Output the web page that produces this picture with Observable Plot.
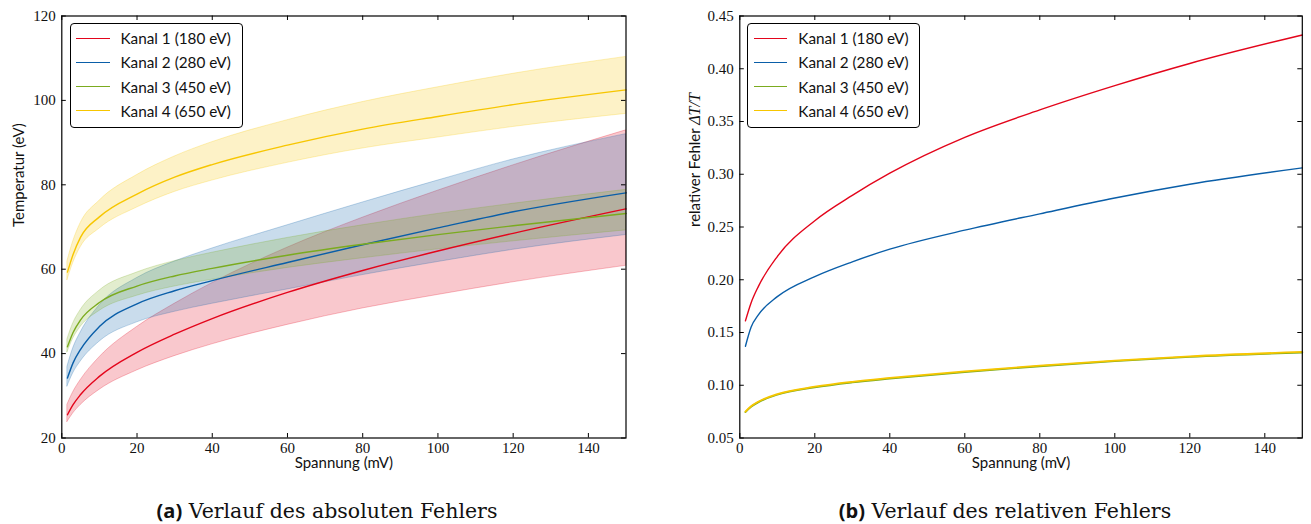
<!DOCTYPE html>
<html><head><meta charset="utf-8">
<script src="https://cdn.jsdelivr.net/npm/d3@7"></script>
<script src="https://cdn.jsdelivr.net/npm/@observablehq/plot@0.6"></script>
<style>
body{margin:0;background:#fff;}
#wrap{position:relative;width:1311px;height:524px;overflow:hidden;background:#fff;}
.panel{position:absolute;top:0;}
#wrap svg text{font-family:"Liberation Serif",serif !important;font-size:15px !important;}
#wrap svg text.sl{font-family:Lato,"Liberation Sans",sans-serif !important;font-size:15px !important;}
#wrap svg tspan.math{font-family:"Liberation Serif",serif !important;font-style:italic;font-size:16px;}
.legend{position:absolute;top:23px;width:171px;height:101px;border:1px solid #000;border-radius:4px;background:#fff;font-family:Lato,"Liberation Sans",sans-serif;font-size:15.3px;color:#111;padding-top:2px;box-sizing:content-box;}
.row{position:relative;height:24.3px;}
.row .sw{position:absolute;left:5.5px;top:11.5px;width:33.5px;height:0;border-top:1.6px solid;}
.row .lb{position:absolute;left:50px;top:2px;line-height:20px;white-space:nowrap;}
.cap{position:absolute;top:497px;font-family:"DejaVu Serif",serif;font-size:20.5px;white-space:nowrap;transform:translateX(-50%);color:#111;}
.cap b{font-family:"Open Sans",sans-serif;font-size:20px;font-weight:700;}
</style>
</head><body>
<div id="wrap"></div>
<script>
// ---------- data ----------
const xs = [1.5, 3, 5, 10, 20, 30, 40, 60, 80, 100, 120, 150];
const kanal = ["Kanal 1 (180 eV)", "Kanal 2 (280 eV)", "Kanal 3 (450 eV)", "Kanal 4 (650 eV)"];
const colors = ["#e3051b", "#0a5ea8", "#7bab1f", "#f7c600"];

// absolute temperature (eV): centre line, lower and upper edge of the error band
const t1   = [25.5, 27.9, 30.3, 34.6, 40.3, 44.6, 48.3, 54.5, 59.7, 64.3, 68.5, 74.3];
const t1lo = [23.8, 25.8, 27.8, 31.4, 36.0, 39.4, 42.2, 46.8, 50.7, 53.9, 56.9, 60.8];
const t1hi = [27.9, 30.8, 33.7, 39.1, 46.3, 51.8, 56.7, 65.1, 72.2, 78.6, 84.6, 92.9];

const t2   = [34.2, 37.8, 41.0, 46.4, 51.8, 54.9, 57.3, 61.6, 65.8, 69.8, 73.6, 78.1];
const t2lo = [32.2, 35.3, 38.1, 42.8, 47.4, 49.9, 51.8, 55.2, 58.6, 61.7, 64.6, 68.1];
const t2hi = [36.9, 41.2, 45.0, 51.4, 57.9, 61.8, 64.9, 70.4, 75.8, 81.0, 86.0, 92.0];

const t3   = [41.6, 45.0, 48.0, 52.1, 56.0, 58.4, 60.2, 63.3, 65.9, 68.2, 70.3, 73.2];
const t3lo = [40.3, 43.5, 46.3, 50.1, 53.7, 55.9, 57.5, 60.3, 62.6, 64.7, 66.6, 69.2];
const t3hi = [43.4, 47.1, 50.3, 54.9, 59.2, 61.9, 63.9, 67.4, 70.4, 73.1, 75.5, 78.8];

const t4   = [59.3, 63.5, 67.6, 72.4, 77.8, 81.8, 84.8, 89.4, 93.2, 96.2, 99.0, 102.5];
const t4lo = [57.4, 61.4, 65.2, 69.6, 74.6, 78.3, 81.0, 85.2, 88.6, 91.2, 93.7, 96.8];
const t4hi = [61.9, 66.5, 70.9, 76.2, 82.3, 86.7, 90.1, 95.3, 99.6, 103.1, 106.3, 110.3];

// relative error ΔT/T
const r1 = [0.161, 0.178, 0.194, 0.222, 0.256, 0.280, 0.301, 0.335, 0.361, 0.384, 0.405, 0.432];
const r2 = [0.137, 0.155, 0.167, 0.184, 0.203, 0.217, 0.229, 0.247, 0.2625, 0.2775, 0.2905, 0.306];
const r3 = [0.0745, 0.0795, 0.084, 0.091, 0.098, 0.1027, 0.1063, 0.1125, 0.118, 0.1228, 0.1268, 0.131];
const r4 = [0.0751, 0.0801, 0.0846, 0.0916, 0.0986, 0.1033, 0.1069, 0.1131, 0.1186, 0.1234, 0.1274, 0.1316];

const xTicks = [0, 20, 40, 60, 80, 100, 120, 140];
const yTicksA = [20, 40, 60, 80, 100, 120];
const yTicksB = [0.05, 0.10, 0.15, 0.20, 0.25, 0.30, 0.35, 0.40, 0.45];

// ---------- tables ----------
const T = [t1, t2, t3, t4], LO = [t1lo, t2lo, t3lo, t4lo], HI = [t1hi, t2hi, t3hi, t4hi], R = [r1, r2, r3, r4];
const absRows = [], relRows = [];
for (let k = 0; k < 4; k++) {
  xs.forEach((x, i) => {
    absRows.push({k, x, t: T[k][i], lo: LO[k][i], hi: HI[k][i]});
    relRows.push({k, x, r: R[k][i]});
  });
}

const W = 655, H = 475, tick = 4.5;
const sansLabels = ["Spannung (mV)", "Temperatur (eV)", "relativer Fehler ΔT/T"];

function frameMarks(yTicks, fmt, m) {
  const iw = W - m.l - m.r, ih = H - m.t - m.b;
  return [
    Plot.tickX(xTicks, {x: d => d, insetTop: ih - tick, stroke: "#000", strokeWidth: 1}),
    Plot.tickX(xTicks, {x: d => d, insetBottom: ih - tick, stroke: "#000", strokeWidth: 1}),
    Plot.tickY(yTicks, {y: d => d, insetRight: iw - tick, stroke: "#000", strokeWidth: 1}),
    Plot.tickY(yTicks, {y: d => d, insetLeft: iw - tick, stroke: "#000", strokeWidth: 1}),
    Plot.frame({stroke: "#000", strokeWidth: 1.2}),
    Plot.axisX({ticks: xTicks, tickSize: 0, tickPadding: 4, label: null, fontSize: 15, tickFormat: d => String(d)}),
    Plot.axisY({ticks: yTicks, tickSize: 0, tickPadding: 6, label: null, fontSize: 15, tickFormat: fmt})
  ];
}

function panel(left, m, y, marks) {
  const svg = Plot.plot({
    width: W, height: H,
    marginLeft: m.l, marginRight: m.r, marginTop: m.t, marginBottom: m.b,
    x: {domain: [0, 150]},
    y,
    style: {background: "transparent", fontSize: "15px", color: "#111", overflow: "visible"},
    marks
  });
  svg.classList.add("panel");
  svg.style.left = left + "px";
  // axis titles get the sans face; tick labels keep the serif face (CSS)
  d3.select(svg).selectAll("text").filter(function() { return sansLabels.includes(this.textContent); })
    .classed("sl", true);
  return svg;
}

const mA = {l: 61.3, r: 29.5, t: 15.5, b: 37.5};
const mB = {l: 83.3, r: 9.2, t: 15.5, b: 37.5};

const areaMarks = [0, 1, 2, 3].map(k => Plot.areaY(absRows.filter(d => d.k === k), {
  x: "x", y1: "lo", y2: "hi", curve: "monotone-x",
  fill: colors[k], fillOpacity: 0.22, stroke: colors[k], strokeOpacity: 0.25, strokeWidth: 1
}));
const lineMarksA = [0, 1, 2, 3].map(k => Plot.line(absRows.filter(d => d.k === k), {
  x: "x", y: "t", curve: "monotone-x", stroke: colors[k], strokeWidth: 1.4
}));
const lineMarksB = [2, 3, 1, 0].map(k => Plot.line(relRows.filter(d => d.k === k), {
  x: "x", y: "r", curve: "monotone-x", stroke: colors[k], strokeWidth: k >= 2 ? 1.8 : 1.4
}));

const svgA = panel(0, mA, {domain: [20, 120]}, [
  ...areaMarks, ...lineMarksA,
  ...frameMarks(yTicksA, d => String(d), mA),
  Plot.text(["Spannung (mV)"], {text: d => d, frameAnchor: "bottom", dy: 30, fill: "#111"}),
  Plot.text(["Temperatur (eV)"], {text: d => d, frameAnchor: "left", dx: -43, rotate: -90, fill: "#111"})
]);

const svgB = panel(656, mB, {domain: [0.05, 0.45]}, [
  ...lineMarksB,
  ...frameMarks(yTicksB, d => d3.format(".2f")(d), mB),
  Plot.text(["Spannung (mV)"], {text: d => d, frameAnchor: "bottom", dy: 30, fill: "#111"}),
  Plot.text(["relativer Fehler ΔT/T"], {text: d => d, frameAnchor: "left", dx: -45, rotate: -90, fill: "#111"})
]);

const wrap = document.getElementById("wrap");
wrap.appendChild(svgA);
wrap.appendChild(svgB);

// style the math part of the y label
d3.select(svgB).selectAll("text.sl").filter(function() { return this.textContent === "relativer Fehler ΔT/T"; })
  .each(function() {
    const t = d3.select(this);
    t.text(null);
    t.append("tspan").text("relativer Fehler ");
    t.append("tspan").attr("class", "math").text("ΔT/T");
  });

// legends
function legend(left) {
  const div = document.createElement("div");
  div.className = "legend";
  div.style.left = left + "px";
  kanal.forEach((name, k) => {
    const row = document.createElement("div");
    row.className = "row";
    row.innerHTML = `<span class="sw" style="border-color:${colors[k]}"></span><span class="lb">${name}</span>`;
    div.appendChild(row);
  });
  wrap.appendChild(div);
}
legend(69.5);
legend(747.3);

// captions
function caption(cx, tag, text) {
  const d = document.createElement("div");
  d.className = "cap";
  d.style.left = cx + "px";
  d.innerHTML = `<b>(${tag})</b> ${text}`;
  wrap.appendChild(d);
}
caption(327, "a", "Verlauf des absoluten Fehlers");
caption(1005, "b", "Verlauf des relativen Fehlers");
</script>
</body></html>
